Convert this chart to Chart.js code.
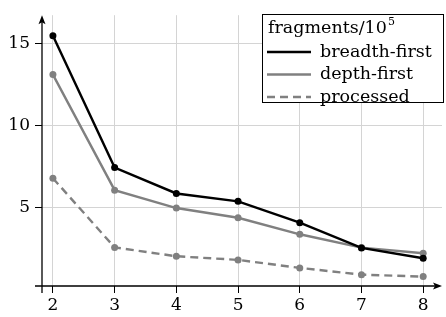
<!DOCTYPE html>
<html>
<head>
<meta charset="utf-8">
<script src="https://cdn.jsdelivr.net/npm/chart.js@4"></script>
<style>
  html, body { margin: 0; padding: 0; background: #fff; }
  #wrap { width: 446px; height: 317px; }
</style>
</head>
<body>
<div id="wrap"><canvas id="chart" width="446" height="317"></canvas></div>
<script>
  // values
  const depths = [2, 3, 4, 5, 6, 7, 8];
  const breadthFirst = [15.47, 7.43, 5.85, 5.37, 4.07, 2.53, 1.90];
  const depthFirst = [13.1, 6.05, 4.96, 4.37, 3.36, 2.55, 2.2];
  const processed = [6.78, 2.56, 2.02, 1.80, 1.31, 0.90, 0.78];
  const xTicks = [2, 3, 4, 5, 6, 7, 8];
  const yTicks = [5, 10, 15];

  const FONT = 'DejaVu Serif';
  const GRAY = '#808080';

  function toPoints(ys) {
    return depths.map((x, i) => ({ x: x, y: ys[i] }));
  }

  function series(label, ys, color, dash) {
    return {
      label: label,
      data: toPoints(ys),
      borderColor: color,
      backgroundColor: color,
      borderWidth: 2.4,
      borderDash: dash,
      pointRadius: 3.5,
      pointBorderWidth: 0,
      pointBackgroundColor: color,
      tension: 0,
      clip: false
    };
  }

  // axis lines with arrows, drawn over the grid
  const axisArrows = {
    id: 'axisArrows',
    afterDatasetsDraw(chart) {
      const ctx = chart.ctx;
      const a = chart.chartArea;
      ctx.save();
      ctx.strokeStyle = '#000';
      ctx.fillStyle = '#000';
      ctx.lineWidth = 1.3;
      ctx.beginPath();
      ctx.moveTo(a.left - 7, a.bottom);
      ctx.lineTo(a.right - 6, a.bottom);
      ctx.moveTo(a.left, a.bottom + 7);
      ctx.lineTo(a.left, a.top + 6);
      ctx.stroke();
      ctx.beginPath();
      ctx.moveTo(a.right, a.bottom);
      ctx.lineTo(a.right - 9, a.bottom - 3.5);
      ctx.lineTo(a.right - 7, a.bottom);
      ctx.lineTo(a.right - 9, a.bottom + 3.5);
      ctx.closePath();
      ctx.fill();
      ctx.beginPath();
      ctx.moveTo(a.left, a.top);
      ctx.lineTo(a.left - 3.5, a.top + 9);
      ctx.lineTo(a.left, a.top + 7);
      ctx.lineTo(a.left + 3.5, a.top + 9);
      ctx.closePath();
      ctx.fill();
      ctx.restore();
    }
  };

  // boxed legend inside the plot, top right
  const boxLegend = {
    id: 'boxLegend',
    afterDraw(chart) {
      const ctx = chart.ctx;
      const x0 = 262, y0 = 14, w = 182, h = 89;
      ctx.save();
      ctx.fillStyle = '#fff';
      ctx.fillRect(x0, y0, w, h);
      ctx.strokeStyle = '#000';
      ctx.lineWidth = 1;
      ctx.strokeRect(x0 + 0.5, y0 + 0.5, w - 1, h - 1);

      ctx.fillStyle = '#000';
      ctx.textBaseline = 'alphabetic';
      ctx.font = '17.5px "' + FONT + '"';
      const title = 'fragments/10';
      ctx.fillText(title, x0 + 6, y0 + 19);
      const tw = ctx.measureText(title).width;
      ctx.font = '11px "' + FONT + '"';
      ctx.fillText('5', x0 + 6 + tw + 1, y0 + 11);

      ctx.font = '17.5px "' + FONT + '"';
      chart.data.datasets.forEach((ds, i) => {
        const cy = y0 + 38 + i * 22.5;
        ctx.strokeStyle = ds.borderColor;
        ctx.lineWidth = ds.borderWidth;
        ctx.setLineDash(ds.borderDash || []);
        ctx.beginPath();
        ctx.moveTo(x0 + 5, cy);
        ctx.lineTo(x0 + 49, cy);
        ctx.stroke();
        ctx.setLineDash([]);
        ctx.fillStyle = '#000';
        ctx.textBaseline = 'middle';
        ctx.fillText(ds.label, x0 + 58, cy);
      });
      ctx.restore();
    }
  };

  const ctx = document.getElementById('chart').getContext('2d');
  const myChart = new Chart(ctx, {
    type: 'line',
    data: {
      datasets: [
        series('breadth-first', breadthFirst, '#000', []),
        series('depth-first', depthFirst, GRAY, []),
        series('processed', processed, GRAY, [8, 5])
      ]
    },
    options: {
      responsive: false,
      animation: false,
      layout: { padding: { top: 7, right: 0, left: 0, bottom: 0 } },
      plugins: {
        legend: { display: false },
        tooltip: { enabled: false }
      },
      scales: {
        x: {
          type: 'linear',
          min: 1.823,
          max: 8.305,
          afterBuildTicks: scale => { scale.ticks = xTicks.map(v => ({ value: v })); },
          afterFit: scale => { scale.height = 31; },
          border: { display: false },
          grid: { color: '#d4d4d4', lineWidth: 1, tickColor: '#000', tickLength: 7 },
          ticks: { color: '#000', padding: 2, font: { family: FONT, size: 17 }, maxRotation: 0 }
        },
        y: {
          type: 'linear',
          min: 0.207,
          max: 16.72,
          afterBuildTicks: scale => { scale.ticks = yTicks.map(v => ({ value: v })); },
          afterFit: scale => { scale.width = 42; },
          border: { display: false },
          grid: { color: '#d4d4d4', lineWidth: 1, tickColor: '#000', tickLength: 7 },
          ticks: { color: '#000', padding: 5, font: { family: FONT, size: 17 } }
        }
      }
    },
    plugins: [axisArrows, boxLegend]
  });
</script>
</body>
</html>
